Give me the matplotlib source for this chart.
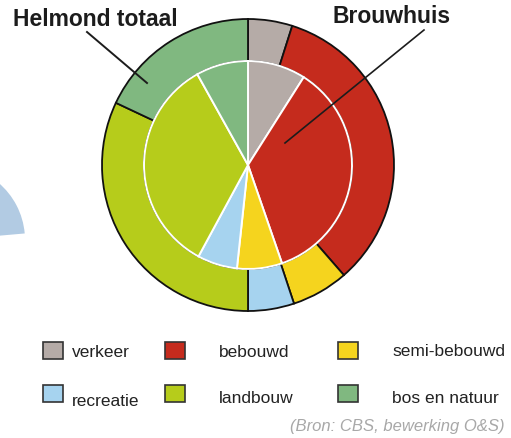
import matplotlib
matplotlib.use('Agg')
import matplotlib.pyplot as plt
from matplotlib.patches import Rectangle, Wedge

W, H = 511, 438

categories = ['verkeer', 'bebouwd', 'semi-bebouwd', 'recreatie', 'landbouw', 'bos en natuur']
colors = ['#b5aba7', '#c52b1d', '#f5d41e', '#a6d3ef', '#b6cc1b', '#80b880']

# percentages, clockwise from 12 o'clock
helmond_totaal = [4.9, 33.7, 6.3, 5.1, 32.0, 18.0]
brouwhuis = [9.0, 35.7, 7.0, 6.2, 34.0, 8.1]

plt.rcParams['font.family'] = ['Liberation Sans', 'DejaVu Sans']

fig = plt.figure(figsize=(W / 100, H / 100), dpi=100)
ax = fig.add_axes([0, 0, 1, 1])

cx, cy = 248, H - 165
r_out, r_in = 146, 104

# outer ring: Helmond totaal
ax.pie(helmond_totaal, colors=colors, radius=r_out, center=(cx, cy),
       startangle=90, counterclock=False,
       wedgeprops=dict(width=r_out - r_in, edgecolor='#111111', linewidth=1.3))
# inner pie: Brouwhuis
ax.pie(brouwhuis, colors=colors, radius=r_in, center=(cx, cy),
       startangle=90, counterclock=False,
       wedgeprops=dict(edgecolor='white', linewidth=1.4))

# stray blue shape at left edge of the scan
ax.add_patch(Wedge((-50, H - 240), 75, 5, 50, facecolor='#b2cbe3', edgecolor='none'))

# titles with pointer lines
ax.text(13, H - 26, 'Helmond totaal', fontsize=16.5, fontweight='bold',
        color='#1c1c1c', va='baseline')
ax.plot([87, 147], [H - 32, H - 83], color='#1c1c1c', lw=1.4)
ax.text(332, H - 23, 'Brouwhuis', fontsize=16.5, fontweight='bold',
        color='#1c1c1c', va='baseline')
ax.plot([424, 285], [H - 30, H - 143], color='#1c1c1c', lw=1.2)

# legend
box_x = [43, 165, 338]
text_x = [72, 219, 392]
box_y = [342, 385]
base_y = [[357, 357, 356], [406, 403, 403]]
for i, (lab, col) in enumerate(zip(categories, colors)):
    row, c = divmod(i, 3)
    ax.add_patch(Rectangle((box_x[c], H - box_y[row] - 17), 20, 17,
                           facecolor=col, edgecolor='#333333', lw=1.2))
    ax.text(text_x[c], H - base_y[row][c], lab, fontsize=12.5,
            color='#222222', va='baseline')

ax.text(505, H - 431, '(Bron: CBS, bewerking O&S)', fontsize=12, style='italic',
        color='#a8a8a8', ha='right', va='baseline')

ax.set_xlim(0, W)
ax.set_ylim(0, H)
ax.set_aspect('auto')
ax.axis('off')

fig.savefig('out.png', dpi=100, facecolor='white')
